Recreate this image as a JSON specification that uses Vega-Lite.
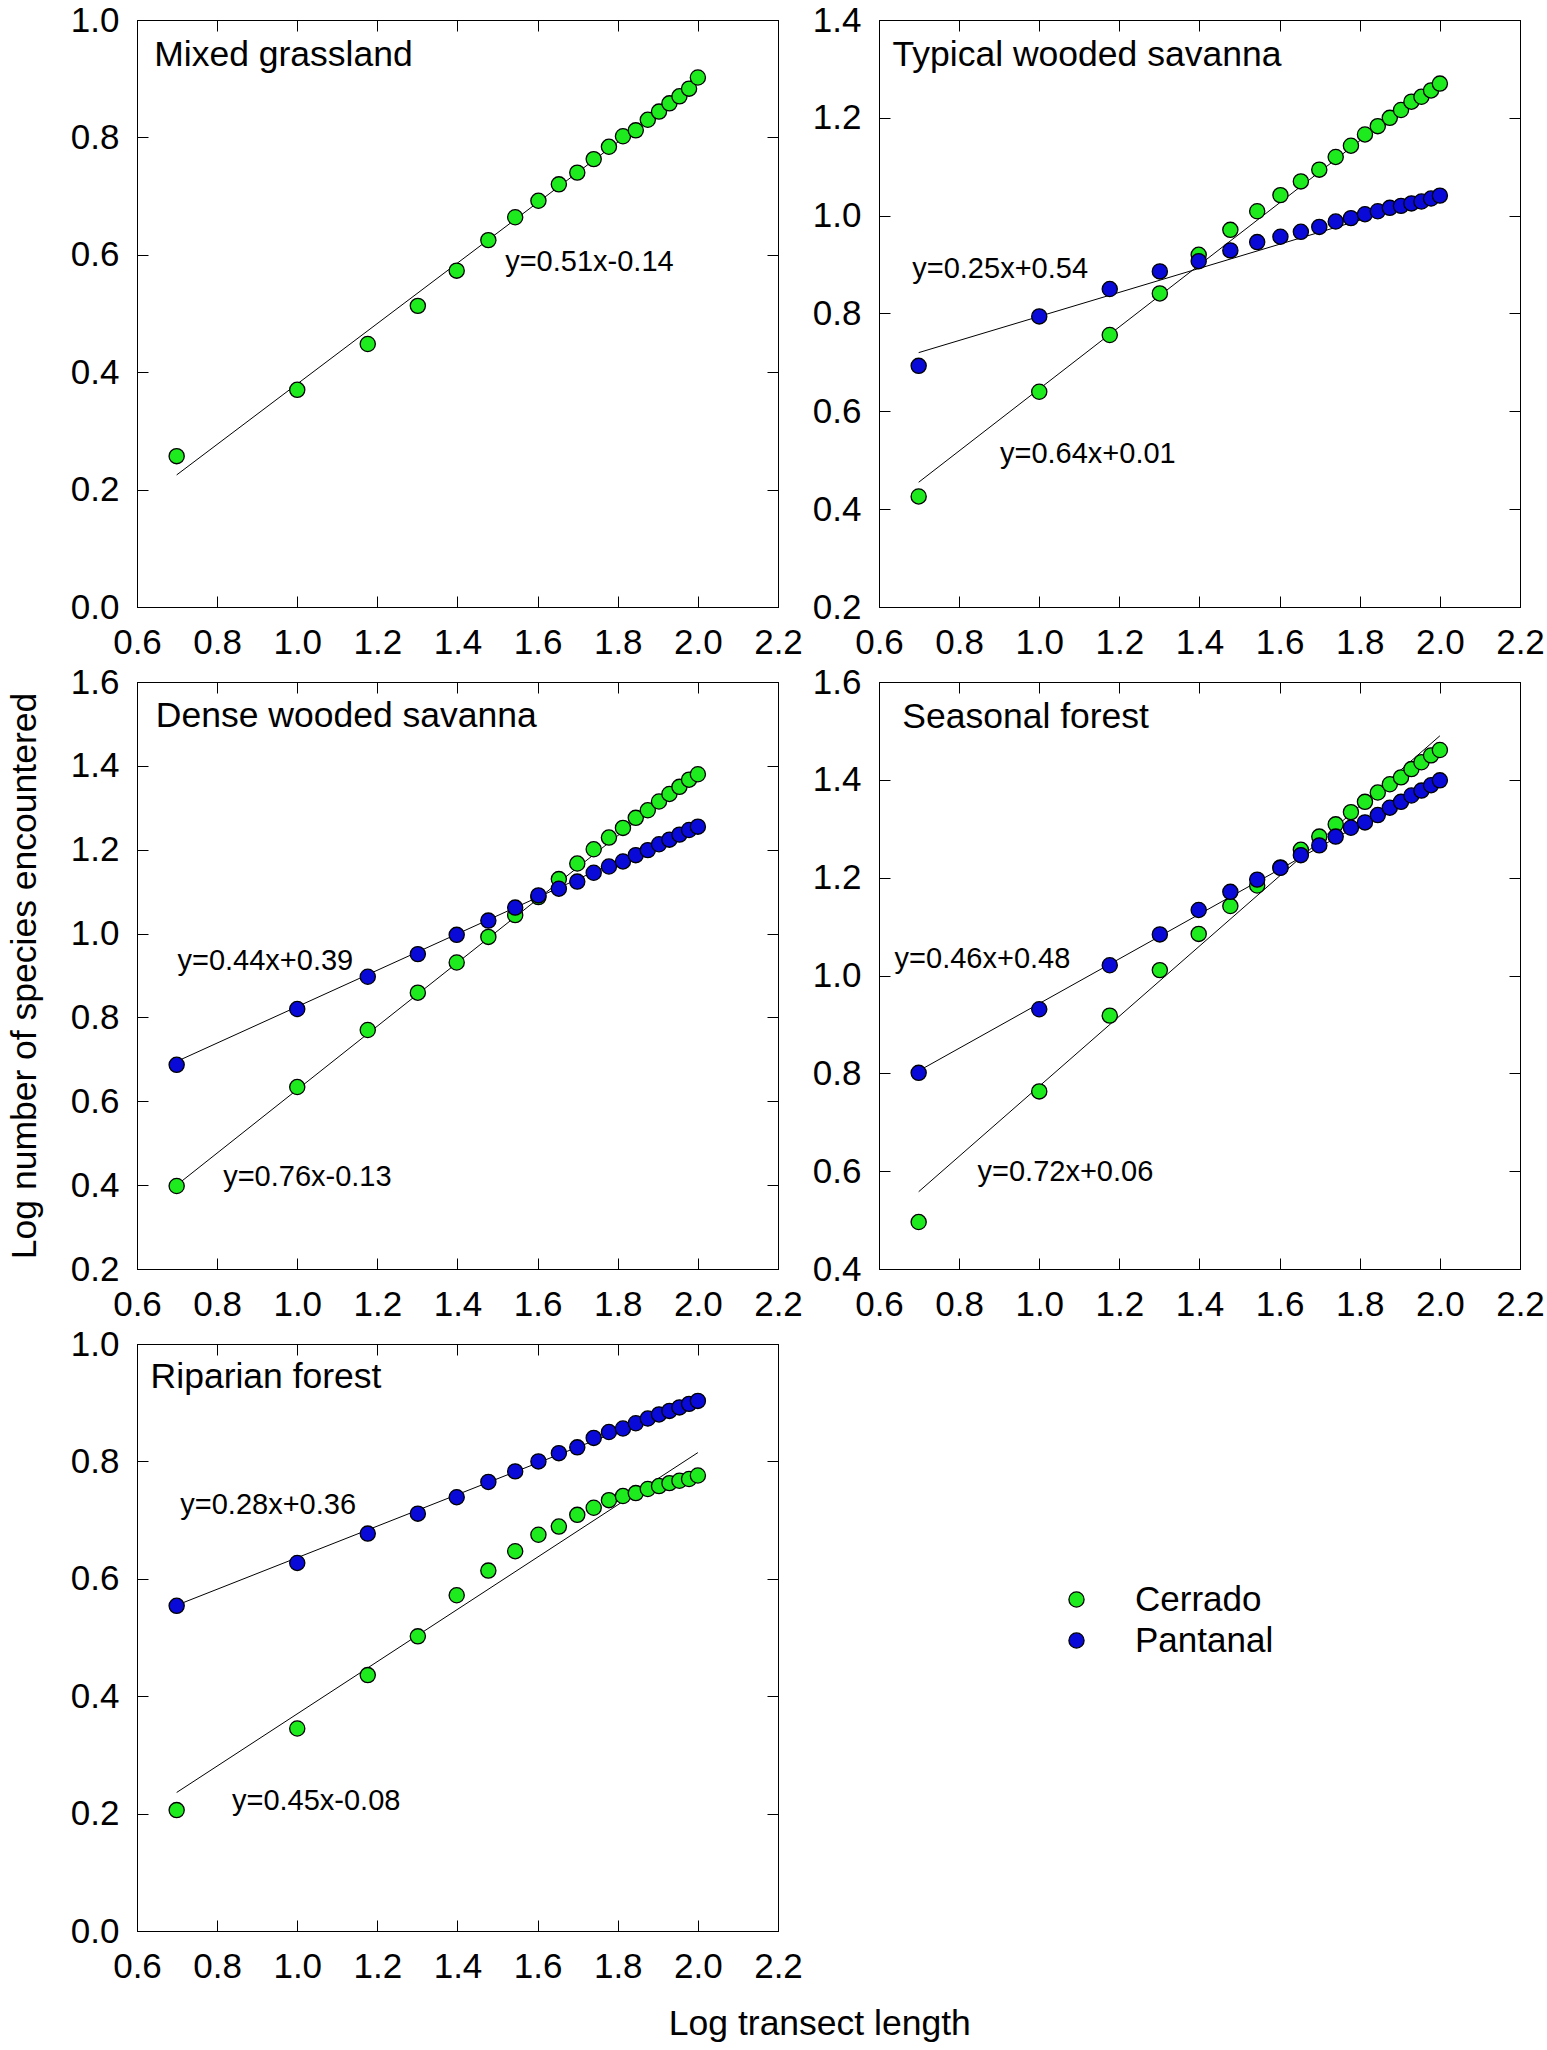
{
"$schema":"https://vega.github.io/schema/vega-lite/v6.json",
"padding":{"left":6,"top":2,"right":0,"bottom":5},
"bounds":"flush",
"columns":2,
"spacing":{"row":75,"column":101},
"title":{"text":"Log transect length","orient":"bottom","anchor":"middle","fontSize":35.5,"fontWeight":"normal","font":"Liberation Sans","color":"black","offset":22,"dx":44},
"config":{
 "view":{"stroke":"black","strokeWidth":1},
 "font":"Liberation Sans",
 "axis":{"grid":false,"labelFlush":false,"tickSize":-11,"tickColor":"black","tickWidth":1,"domainColor":"black","domainWidth":1,"labelFontSize":35,"labelColor":"black","labelFont":"Liberation Sans","labelPadding":29,"titleFontWeight":"normal","titleFont":"Liberation Sans","titleColor":"black","titleFontSize":35.5},
 "text":{"font":"Liberation Sans","color":"black"}
},
"datasets":{
 "points":[
  {"panel":1,"site":"Cerrado","x":0.699,"y":0.257},{"panel":1,"site":"Cerrado","x":1.0,"y":0.370},{"panel":1,"site":"Cerrado","x":1.176,"y":0.448},{"panel":1,"site":"Cerrado","x":1.301,"y":0.513},{"panel":1,"site":"Cerrado","x":1.398,"y":0.573},{"panel":1,"site":"Cerrado","x":1.477,"y":0.625},{"panel":1,"site":"Cerrado","x":1.544,"y":0.664},{"panel":1,"site":"Cerrado","x":1.602,"y":0.692},{"panel":1,"site":"Cerrado","x":1.653,"y":0.720},{"panel":1,"site":"Cerrado","x":1.699,"y":0.740},{"panel":1,"site":"Cerrado","x":1.740,"y":0.763},{"panel":1,"site":"Cerrado","x":1.778,"y":0.784},{"panel":1,"site":"Cerrado","x":1.813,"y":0.802},{"panel":1,"site":"Cerrado","x":1.845,"y":0.812},{"panel":1,"site":"Cerrado","x":1.875,"y":0.830},{"panel":1,"site":"Cerrado","x":1.903,"y":0.844},{"panel":1,"site":"Cerrado","x":1.929,"y":0.858},{"panel":1,"site":"Cerrado","x":1.954,"y":0.870},{"panel":1,"site":"Cerrado","x":1.978,"y":0.883},{"panel":1,"site":"Cerrado","x":2.0,"y":0.902},

  {"panel":2,"site":"Cerrado","x":0.699,"y":0.426},{"panel":2,"site":"Cerrado","x":1.0,"y":0.640},{"panel":2,"site":"Cerrado","x":1.176,"y":0.756},{"panel":2,"site":"Cerrado","x":1.301,"y":0.841},{"panel":2,"site":"Cerrado","x":1.398,"y":0.920},{"panel":2,"site":"Cerrado","x":1.477,"y":0.971},{"panel":2,"site":"Cerrado","x":1.544,"y":1.009},{"panel":2,"site":"Cerrado","x":1.602,"y":1.042},{"panel":2,"site":"Cerrado","x":1.653,"y":1.070},{"panel":2,"site":"Cerrado","x":1.699,"y":1.094},{"panel":2,"site":"Cerrado","x":1.740,"y":1.120},{"panel":2,"site":"Cerrado","x":1.778,"y":1.143},{"panel":2,"site":"Cerrado","x":1.813,"y":1.166},{"panel":2,"site":"Cerrado","x":1.845,"y":1.183},{"panel":2,"site":"Cerrado","x":1.875,"y":1.200},{"panel":2,"site":"Cerrado","x":1.903,"y":1.216},{"panel":2,"site":"Cerrado","x":1.929,"y":1.233},{"panel":2,"site":"Cerrado","x":1.954,"y":1.243},{"panel":2,"site":"Cerrado","x":1.978,"y":1.256},{"panel":2,"site":"Cerrado","x":2.0,"y":1.270},
  {"panel":2,"site":"Pantanal","x":0.699,"y":0.693},{"panel":2,"site":"Pantanal","x":1.0,"y":0.794},{"panel":2,"site":"Pantanal","x":1.176,"y":0.850},{"panel":2,"site":"Pantanal","x":1.301,"y":0.886},{"panel":2,"site":"Pantanal","x":1.398,"y":0.907},{"panel":2,"site":"Pantanal","x":1.477,"y":0.929},{"panel":2,"site":"Pantanal","x":1.544,"y":0.946},{"panel":2,"site":"Pantanal","x":1.602,"y":0.957},{"panel":2,"site":"Pantanal","x":1.653,"y":0.967},{"panel":2,"site":"Pantanal","x":1.699,"y":0.977},{"panel":2,"site":"Pantanal","x":1.740,"y":0.988},{"panel":2,"site":"Pantanal","x":1.778,"y":0.995},{"panel":2,"site":"Pantanal","x":1.813,"y":1.003},{"panel":2,"site":"Pantanal","x":1.845,"y":1.009},{"panel":2,"site":"Pantanal","x":1.875,"y":1.016},{"panel":2,"site":"Pantanal","x":1.903,"y":1.020},{"panel":2,"site":"Pantanal","x":1.929,"y":1.025},{"panel":2,"site":"Pantanal","x":1.954,"y":1.029},{"panel":2,"site":"Pantanal","x":1.978,"y":1.035},{"panel":2,"site":"Pantanal","x":2.0,"y":1.041},

  {"panel":3,"site":"Cerrado","x":0.699,"y":0.398},{"panel":3,"site":"Cerrado","x":1.0,"y":0.634},{"panel":3,"site":"Cerrado","x":1.176,"y":0.770},{"panel":3,"site":"Cerrado","x":1.301,"y":0.859},{"panel":3,"site":"Cerrado","x":1.398,"y":0.931},{"panel":3,"site":"Cerrado","x":1.477,"y":0.992},{"panel":3,"site":"Cerrado","x":1.544,"y":1.044},{"panel":3,"site":"Cerrado","x":1.602,"y":1.087},{"panel":3,"site":"Cerrado","x":1.653,"y":1.130},{"panel":3,"site":"Cerrado","x":1.699,"y":1.167},{"panel":3,"site":"Cerrado","x":1.740,"y":1.201},{"panel":3,"site":"Cerrado","x":1.778,"y":1.229},{"panel":3,"site":"Cerrado","x":1.813,"y":1.252},{"panel":3,"site":"Cerrado","x":1.845,"y":1.276},{"panel":3,"site":"Cerrado","x":1.875,"y":1.294},{"panel":3,"site":"Cerrado","x":1.903,"y":1.315},{"panel":3,"site":"Cerrado","x":1.929,"y":1.333},{"panel":3,"site":"Cerrado","x":1.954,"y":1.350},{"panel":3,"site":"Cerrado","x":1.978,"y":1.367},{"panel":3,"site":"Cerrado","x":2.0,"y":1.380},
  {"panel":3,"site":"Pantanal","x":0.699,"y":0.687},{"panel":3,"site":"Pantanal","x":1.0,"y":0.820},{"panel":3,"site":"Pantanal","x":1.176,"y":0.897},{"panel":3,"site":"Pantanal","x":1.301,"y":0.951},{"panel":3,"site":"Pantanal","x":1.398,"y":0.997},{"panel":3,"site":"Pantanal","x":1.477,"y":1.031},{"panel":3,"site":"Pantanal","x":1.544,"y":1.062},{"panel":3,"site":"Pantanal","x":1.602,"y":1.091},{"panel":3,"site":"Pantanal","x":1.653,"y":1.107},{"panel":3,"site":"Pantanal","x":1.699,"y":1.124},{"panel":3,"site":"Pantanal","x":1.740,"y":1.145},{"panel":3,"site":"Pantanal","x":1.778,"y":1.160},{"panel":3,"site":"Pantanal","x":1.813,"y":1.172},{"panel":3,"site":"Pantanal","x":1.845,"y":1.187},{"panel":3,"site":"Pantanal","x":1.875,"y":1.199},{"panel":3,"site":"Pantanal","x":1.903,"y":1.213},{"panel":3,"site":"Pantanal","x":1.929,"y":1.224},{"panel":3,"site":"Pantanal","x":1.954,"y":1.236},{"panel":3,"site":"Pantanal","x":1.978,"y":1.247},{"panel":3,"site":"Pantanal","x":2.0,"y":1.255},

  {"panel":4,"site":"Cerrado","x":0.699,"y":0.496},{"panel":4,"site":"Cerrado","x":1.0,"y":0.763},{"panel":4,"site":"Cerrado","x":1.176,"y":0.918},{"panel":4,"site":"Cerrado","x":1.301,"y":1.011},{"panel":4,"site":"Cerrado","x":1.398,"y":1.085},{"panel":4,"site":"Cerrado","x":1.477,"y":1.142},{"panel":4,"site":"Cerrado","x":1.544,"y":1.184},{"panel":4,"site":"Cerrado","x":1.602,"y":1.221},{"panel":4,"site":"Cerrado","x":1.653,"y":1.257},{"panel":4,"site":"Cerrado","x":1.699,"y":1.284},{"panel":4,"site":"Cerrado","x":1.740,"y":1.309},{"panel":4,"site":"Cerrado","x":1.778,"y":1.334},{"panel":4,"site":"Cerrado","x":1.813,"y":1.355},{"panel":4,"site":"Cerrado","x":1.845,"y":1.374},{"panel":4,"site":"Cerrado","x":1.875,"y":1.391},{"panel":4,"site":"Cerrado","x":1.903,"y":1.405},{"panel":4,"site":"Cerrado","x":1.929,"y":1.422},{"panel":4,"site":"Cerrado","x":1.954,"y":1.436},{"panel":4,"site":"Cerrado","x":1.978,"y":1.450},{"panel":4,"site":"Cerrado","x":2.0,"y":1.461},
  {"panel":4,"site":"Pantanal","x":0.699,"y":0.801},{"panel":4,"site":"Pantanal","x":1.0,"y":0.931},{"panel":4,"site":"Pantanal","x":1.176,"y":1.021},{"panel":4,"site":"Pantanal","x":1.301,"y":1.084},{"panel":4,"site":"Pantanal","x":1.398,"y":1.134},{"panel":4,"site":"Pantanal","x":1.477,"y":1.171},{"panel":4,"site":"Pantanal","x":1.544,"y":1.196},{"panel":4,"site":"Pantanal","x":1.602,"y":1.220},{"panel":4,"site":"Pantanal","x":1.653,"y":1.246},{"panel":4,"site":"Pantanal","x":1.699,"y":1.266},{"panel":4,"site":"Pantanal","x":1.740,"y":1.284},{"panel":4,"site":"Pantanal","x":1.778,"y":1.302},{"panel":4,"site":"Pantanal","x":1.813,"y":1.313},{"panel":4,"site":"Pantanal","x":1.845,"y":1.328},{"panel":4,"site":"Pantanal","x":1.875,"y":1.343},{"panel":4,"site":"Pantanal","x":1.903,"y":1.355},{"panel":4,"site":"Pantanal","x":1.929,"y":1.368},{"panel":4,"site":"Pantanal","x":1.954,"y":1.378},{"panel":4,"site":"Pantanal","x":1.978,"y":1.389},{"panel":4,"site":"Pantanal","x":2.0,"y":1.399},

  {"panel":5,"site":"Cerrado","x":0.699,"y":0.206},{"panel":5,"site":"Cerrado","x":1.0,"y":0.345},{"panel":5,"site":"Cerrado","x":1.176,"y":0.436},{"panel":5,"site":"Cerrado","x":1.301,"y":0.502},{"panel":5,"site":"Cerrado","x":1.398,"y":0.572},{"panel":5,"site":"Cerrado","x":1.477,"y":0.614},{"panel":5,"site":"Cerrado","x":1.544,"y":0.647},{"panel":5,"site":"Cerrado","x":1.602,"y":0.675},{"panel":5,"site":"Cerrado","x":1.653,"y":0.689},{"panel":5,"site":"Cerrado","x":1.699,"y":0.709},{"panel":5,"site":"Cerrado","x":1.740,"y":0.721},{"panel":5,"site":"Cerrado","x":1.778,"y":0.734},{"panel":5,"site":"Cerrado","x":1.813,"y":0.741},{"panel":5,"site":"Cerrado","x":1.845,"y":0.746},{"panel":5,"site":"Cerrado","x":1.875,"y":0.753},{"panel":5,"site":"Cerrado","x":1.903,"y":0.758},{"panel":5,"site":"Cerrado","x":1.929,"y":0.763},{"panel":5,"site":"Cerrado","x":1.954,"y":0.767},{"panel":5,"site":"Cerrado","x":1.978,"y":0.770},{"panel":5,"site":"Cerrado","x":2.0,"y":0.776},
  {"panel":5,"site":"Pantanal","x":0.699,"y":0.554},{"panel":5,"site":"Pantanal","x":1.0,"y":0.627},{"panel":5,"site":"Pantanal","x":1.176,"y":0.677},{"panel":5,"site":"Pantanal","x":1.301,"y":0.711},{"panel":5,"site":"Pantanal","x":1.398,"y":0.739},{"panel":5,"site":"Pantanal","x":1.477,"y":0.765},{"panel":5,"site":"Pantanal","x":1.544,"y":0.783},{"panel":5,"site":"Pantanal","x":1.602,"y":0.800},{"panel":5,"site":"Pantanal","x":1.653,"y":0.814},{"panel":5,"site":"Pantanal","x":1.699,"y":0.824},{"panel":5,"site":"Pantanal","x":1.740,"y":0.840},{"panel":5,"site":"Pantanal","x":1.778,"y":0.850},{"panel":5,"site":"Pantanal","x":1.813,"y":0.856},{"panel":5,"site":"Pantanal","x":1.845,"y":0.865},{"panel":5,"site":"Pantanal","x":1.875,"y":0.873},{"panel":5,"site":"Pantanal","x":1.903,"y":0.880},{"panel":5,"site":"Pantanal","x":1.929,"y":0.886},{"panel":5,"site":"Pantanal","x":1.954,"y":0.892},{"panel":5,"site":"Pantanal","x":1.978,"y":0.898},{"panel":5,"site":"Pantanal","x":2.0,"y":0.903}
 ],
 "fits":[
  {"panel":1,"site":"Cerrado","x":0.699,"y":0.225},{"panel":1,"site":"Cerrado","x":2.0,"y":0.895},
  {"panel":2,"site":"Cerrado","x":0.699,"y":0.455},{"panel":2,"site":"Cerrado","x":2.0,"y":1.28},
  {"panel":2,"site":"Pantanal","x":0.699,"y":0.72},{"panel":2,"site":"Pantanal","x":2.0,"y":1.04},
  {"panel":3,"site":"Cerrado","x":0.699,"y":0.40},{"panel":3,"site":"Cerrado","x":2.0,"y":1.385},
  {"panel":3,"site":"Pantanal","x":0.699,"y":0.695},{"panel":3,"site":"Pantanal","x":2.0,"y":1.26},
  {"panel":4,"site":"Cerrado","x":0.699,"y":0.558},{"panel":4,"site":"Cerrado","x":2.0,"y":1.49},
  {"panel":4,"site":"Pantanal","x":0.699,"y":0.805},{"panel":4,"site":"Pantanal","x":2.0,"y":1.40},
  {"panel":5,"site":"Cerrado","x":0.699,"y":0.236},{"panel":5,"site":"Cerrado","x":2.0,"y":0.815},
  {"panel":5,"site":"Pantanal","x":0.699,"y":0.555},{"panel":5,"site":"Pantanal","x":2.0,"y":0.905}
 ],
 "notes":[
  {"panel":1,"kind":"eq","x":1.519,"y":0.587,"text":"y=0.51x-0.14"},
  {"panel":2,"kind":"eq","x":0.683,"y":0.890,"text":"y=0.25x+0.54"},
  {"panel":2,"kind":"eq","x":0.902,"y":0.513,"text":"y=0.64x+0.01"},
  {"panel":3,"kind":"eq","x":0.701,"y":0.934,"text":"y=0.44x+0.39"},
  {"panel":3,"kind":"eq","x":0.815,"y":0.420,"text":"y=0.76x-0.13"},
  {"panel":4,"kind":"eq","x":0.639,"y":1.033,"text":"y=0.46x+0.48"},
  {"panel":4,"kind":"eq","x":0.846,"y":0.599,"text":"y=0.72x+0.06"},
  {"panel":5,"kind":"eq","x":0.708,"y":0.725,"text":"y=0.28x+0.36"},
  {"panel":5,"kind":"eq","x":0.837,"y":0.222,"text":"y=0.45x-0.08"},
  {"panel":1,"kind":"title","x":0.643,"y":0.941,"text":"Mixed grassland"},
  {"panel":2,"kind":"title","x":0.634,"y":1.328,"text":"Typical wooded savanna"},
  {"panel":3,"kind":"title","x":0.647,"y":1.518,"text":"Dense wooded savanna"},
  {"panel":4,"kind":"title","x":0.658,"y":1.528,"text":"Seasonal forest"},
  {"panel":5,"kind":"title","x":0.634,"y":0.943,"text":"Riparian forest"}
 ]
},
"concat":[
 {"width":641,"height":587,
  "resolve":{"axis":{"x":"independent","y":"independent"}},
  "layer":[
   {"data":{"name":"fits"},"transform":[{"filter":"datum.panel==1"}],
    "mark":{"type":"line","color":"black","strokeWidth":1},
    "encoding":{"x":{"field":"x","type":"quantitative","scale":{"domain":[0.6,2.2],"nice":false,"zero":false},"axis":{"orient":"top","labels":false,"title":null,"values":[0.6,0.8,1.0,1.2,1.4,1.6,1.8,2.0,2.2]}},
     "y":{"field":"y","type":"quantitative","scale":{"domain":[0,1.0],"nice":false,"zero":false},"axis":{"orient":"right","labels":false,"title":null,"values":[0,0.2,0.4,0.6,0.8,1.0]}},
     "detail":{"field":"site"}}},
   {"data":{"name":"points"},"transform":[{"filter":"datum.panel==1"}],
    "mark":{"type":"point","filled":true,"shape":"circle","size":230,"stroke":"black","strokeWidth":1.3,"opacity":1},
    "encoding":{"x":{"field":"x","type":"quantitative","scale":{"domain":[0.6,2.2],"nice":false,"zero":false},"axis":{"orient":"bottom","title":null,"format":".1f","values":[0.6,0.8,1.0,1.2,1.4,1.6,1.8,2.0,2.2]}},
     "y":{"field":"y","type":"quantitative","scale":{"domain":[0,1.0],"nice":false,"zero":false},"axis":{"orient":"left","title":null,"format":".1f","values":[0,0.2,0.4,0.6,0.8,1.0]}},
     "color":{"field":"site","type":"nominal","scale":{"domain":["Cerrado","Pantanal"],"range":["#1eeb1e","#0a0ad8"]},
      "legend":{"title":null,"orient":"none","legendX":922,"legendY":1562,"symbolType":"circle","symbolSize":230,"symbolStrokeColor":"black","symbolStrokeWidth":1.3,"symbolOpacity":1,"labelFontSize":35,"labelFont":"Liberation Sans","labelColor":"black","labelOffset":41,"rowPadding":5}}}},
   {"data":{"name":"notes"},"transform":[{"filter":"datum.panel==1 && datum.kind=='eq'"}],
    "mark":{"type":"text","align":"left","baseline":"middle","fontSize":29},
    "encoding":{"x":{"field":"x","type":"quantitative","axis":null},"y":{"field":"y","type":"quantitative","axis":null},"text":{"field":"text"}}},
   {"data":{"name":"notes"},"transform":[{"filter":"datum.panel==1 && datum.kind=='title'"}],
    "mark":{"type":"text","align":"left","baseline":"middle","fontSize":35.5},
    "encoding":{"x":{"field":"x","type":"quantitative","axis":null},"y":{"field":"y","type":"quantitative","axis":null},"text":{"field":"text"}}}
  ]},
 {"width":641,"height":587,
  "resolve":{"axis":{"x":"independent","y":"independent"}},
  "layer":[
   {"data":{"name":"fits"},"transform":[{"filter":"datum.panel==2"}],
    "mark":{"type":"line","color":"black","strokeWidth":1},
    "encoding":{"x":{"field":"x","type":"quantitative","scale":{"domain":[0.6,2.2],"nice":false,"zero":false},"axis":{"orient":"top","labels":false,"title":null,"values":[0.6,0.8,1.0,1.2,1.4,1.6,1.8,2.0,2.2]}},
     "y":{"field":"y","type":"quantitative","scale":{"domain":[0.2,1.4],"nice":false,"zero":false},"axis":{"orient":"right","labels":false,"title":null,"values":[0.2,0.4,0.6,0.8,1.0,1.2,1.4]}},
     "detail":{"field":"site"}}},
   {"data":{"name":"points"},"transform":[{"filter":"datum.panel==2"}],
    "mark":{"type":"point","filled":true,"shape":"circle","size":230,"stroke":"black","strokeWidth":1.3,"opacity":1},
    "encoding":{"x":{"field":"x","type":"quantitative","scale":{"domain":[0.6,2.2],"nice":false,"zero":false},"axis":{"orient":"bottom","title":null,"format":".1f","values":[0.6,0.8,1.0,1.2,1.4,1.6,1.8,2.0,2.2]}},
     "y":{"field":"y","type":"quantitative","scale":{"domain":[0.2,1.4],"nice":false,"zero":false},"axis":{"orient":"left","title":null,"format":".1f","values":[0.2,0.4,0.6,0.8,1.0,1.2,1.4]}},
     "color":{"field":"site","type":"nominal","scale":{"domain":["Cerrado","Pantanal"],"range":["#1eeb1e","#0a0ad8"]},
      "legend":{"title":null,"orient":"none","legendX":922,"legendY":1562,"symbolType":"circle","symbolSize":230,"symbolStrokeColor":"black","symbolStrokeWidth":1.3,"symbolOpacity":1,"labelFontSize":35,"labelFont":"Liberation Sans","labelColor":"black","labelOffset":41,"rowPadding":5}}}},
   {"data":{"name":"notes"},"transform":[{"filter":"datum.panel==2 && datum.kind=='eq'"}],
    "mark":{"type":"text","align":"left","baseline":"middle","fontSize":29},
    "encoding":{"x":{"field":"x","type":"quantitative","axis":null},"y":{"field":"y","type":"quantitative","axis":null},"text":{"field":"text"}}},
   {"data":{"name":"notes"},"transform":[{"filter":"datum.panel==2 && datum.kind=='title'"}],
    "mark":{"type":"text","align":"left","baseline":"middle","fontSize":35.5},
    "encoding":{"x":{"field":"x","type":"quantitative","axis":null},"y":{"field":"y","type":"quantitative","axis":null},"text":{"field":"text"}}}
  ]},
 {"width":641,"height":587,
  "resolve":{"axis":{"x":"independent","y":"independent"}},
  "layer":[
   {"data":{"name":"fits"},"transform":[{"filter":"datum.panel==3"}],
    "mark":{"type":"line","color":"black","strokeWidth":1},
    "encoding":{"x":{"field":"x","type":"quantitative","scale":{"domain":[0.6,2.2],"nice":false,"zero":false},"axis":{"orient":"top","labels":false,"title":null,"values":[0.6,0.8,1.0,1.2,1.4,1.6,1.8,2.0,2.2]}},
     "y":{"field":"y","type":"quantitative","scale":{"domain":[0.2,1.6],"nice":false,"zero":false},"axis":{"orient":"right","labels":false,"title":null,"values":[0.2,0.4,0.6,0.8,1.0,1.2,1.4,1.6]}},
     "detail":{"field":"site"}}},
   {"data":{"name":"points"},"transform":[{"filter":"datum.panel==3"}],
    "mark":{"type":"point","filled":true,"shape":"circle","size":230,"stroke":"black","strokeWidth":1.3,"opacity":1},
    "encoding":{"x":{"field":"x","type":"quantitative","scale":{"domain":[0.6,2.2],"nice":false,"zero":false},"axis":{"orient":"bottom","title":null,"format":".1f","values":[0.6,0.8,1.0,1.2,1.4,1.6,1.8,2.0,2.2]}},
     "y":{"field":"y","type":"quantitative","scale":{"domain":[0.2,1.6],"nice":false,"zero":false},"axis":{"orient":"left","title":"Log number of species encountered","titlePadding":28,"format":".1f","values":[0.2,0.4,0.6,0.8,1.0,1.2,1.4,1.6]}},
     "color":{"field":"site","type":"nominal","scale":{"domain":["Cerrado","Pantanal"],"range":["#1eeb1e","#0a0ad8"]},
      "legend":{"title":null,"orient":"none","legendX":922,"legendY":1562,"symbolType":"circle","symbolSize":230,"symbolStrokeColor":"black","symbolStrokeWidth":1.3,"symbolOpacity":1,"labelFontSize":35,"labelFont":"Liberation Sans","labelColor":"black","labelOffset":41,"rowPadding":5}}}},
   {"data":{"name":"notes"},"transform":[{"filter":"datum.panel==3 && datum.kind=='eq'"}],
    "mark":{"type":"text","align":"left","baseline":"middle","fontSize":29},
    "encoding":{"x":{"field":"x","type":"quantitative","axis":null},"y":{"field":"y","type":"quantitative","axis":null},"text":{"field":"text"}}},
   {"data":{"name":"notes"},"transform":[{"filter":"datum.panel==3 && datum.kind=='title'"}],
    "mark":{"type":"text","align":"left","baseline":"middle","fontSize":35.5},
    "encoding":{"x":{"field":"x","type":"quantitative","axis":null},"y":{"field":"y","type":"quantitative","axis":null},"text":{"field":"text"}}}
  ]},
 {"width":641,"height":587,
  "resolve":{"axis":{"x":"independent","y":"independent"}},
  "layer":[
   {"data":{"name":"fits"},"transform":[{"filter":"datum.panel==4"}],
    "mark":{"type":"line","color":"black","strokeWidth":1},
    "encoding":{"x":{"field":"x","type":"quantitative","scale":{"domain":[0.6,2.2],"nice":false,"zero":false},"axis":{"orient":"top","labels":false,"title":null,"values":[0.6,0.8,1.0,1.2,1.4,1.6,1.8,2.0,2.2]}},
     "y":{"field":"y","type":"quantitative","scale":{"domain":[0.4,1.6],"nice":false,"zero":false},"axis":{"orient":"right","labels":false,"title":null,"values":[0.4,0.6,0.8,1.0,1.2,1.4,1.6]}},
     "detail":{"field":"site"}}},
   {"data":{"name":"points"},"transform":[{"filter":"datum.panel==4"}],
    "mark":{"type":"point","filled":true,"shape":"circle","size":230,"stroke":"black","strokeWidth":1.3,"opacity":1},
    "encoding":{"x":{"field":"x","type":"quantitative","scale":{"domain":[0.6,2.2],"nice":false,"zero":false},"axis":{"orient":"bottom","title":null,"format":".1f","values":[0.6,0.8,1.0,1.2,1.4,1.6,1.8,2.0,2.2]}},
     "y":{"field":"y","type":"quantitative","scale":{"domain":[0.4,1.6],"nice":false,"zero":false},"axis":{"orient":"left","title":null,"format":".1f","values":[0.4,0.6,0.8,1.0,1.2,1.4,1.6]}},
     "color":{"field":"site","type":"nominal","scale":{"domain":["Cerrado","Pantanal"],"range":["#1eeb1e","#0a0ad8"]},
      "legend":{"title":null,"orient":"none","legendX":922,"legendY":1562,"symbolType":"circle","symbolSize":230,"symbolStrokeColor":"black","symbolStrokeWidth":1.3,"symbolOpacity":1,"labelFontSize":35,"labelFont":"Liberation Sans","labelColor":"black","labelOffset":41,"rowPadding":5}}}},
   {"data":{"name":"notes"},"transform":[{"filter":"datum.panel==4 && datum.kind=='eq'"}],
    "mark":{"type":"text","align":"left","baseline":"middle","fontSize":29},
    "encoding":{"x":{"field":"x","type":"quantitative","axis":null},"y":{"field":"y","type":"quantitative","axis":null},"text":{"field":"text"}}},
   {"data":{"name":"notes"},"transform":[{"filter":"datum.panel==4 && datum.kind=='title'"}],
    "mark":{"type":"text","align":"left","baseline":"middle","fontSize":35.5},
    "encoding":{"x":{"field":"x","type":"quantitative","axis":null},"y":{"field":"y","type":"quantitative","axis":null},"text":{"field":"text"}}}
  ]},
 {"width":641,"height":587,
  "resolve":{"axis":{"x":"independent","y":"independent"}},
  "layer":[
   {"data":{"name":"fits"},"transform":[{"filter":"datum.panel==5"}],
    "mark":{"type":"line","color":"black","strokeWidth":1},
    "encoding":{"x":{"field":"x","type":"quantitative","scale":{"domain":[0.6,2.2],"nice":false,"zero":false},"axis":{"orient":"top","labels":false,"title":null,"values":[0.6,0.8,1.0,1.2,1.4,1.6,1.8,2.0,2.2]}},
     "y":{"field":"y","type":"quantitative","scale":{"domain":[0,1.0],"nice":false,"zero":false},"axis":{"orient":"right","labels":false,"title":null,"values":[0,0.2,0.4,0.6,0.8,1.0]}},
     "detail":{"field":"site"}}},
   {"data":{"name":"points"},"transform":[{"filter":"datum.panel==5"}],
    "mark":{"type":"point","filled":true,"shape":"circle","size":230,"stroke":"black","strokeWidth":1.3,"opacity":1},
    "encoding":{"x":{"field":"x","type":"quantitative","scale":{"domain":[0.6,2.2],"nice":false,"zero":false},"axis":{"orient":"bottom","title":null,"format":".1f","values":[0.6,0.8,1.0,1.2,1.4,1.6,1.8,2.0,2.2]}},
     "y":{"field":"y","type":"quantitative","scale":{"domain":[0,1.0],"nice":false,"zero":false},"axis":{"orient":"left","title":null,"format":".1f","values":[0,0.2,0.4,0.6,0.8,1.0]}},
     "color":{"field":"site","type":"nominal","scale":{"domain":["Cerrado","Pantanal"],"range":["#1eeb1e","#0a0ad8"]},
      "legend":{"title":null,"orient":"none","legendX":922,"legendY":1562,"symbolType":"circle","symbolSize":230,"symbolStrokeColor":"black","symbolStrokeWidth":1.3,"symbolOpacity":1,"labelFontSize":35,"labelFont":"Liberation Sans","labelColor":"black","labelOffset":41,"rowPadding":5}}}},
   {"data":{"name":"notes"},"transform":[{"filter":"datum.panel==5 && datum.kind=='eq'"}],
    "mark":{"type":"text","align":"left","baseline":"middle","fontSize":29},
    "encoding":{"x":{"field":"x","type":"quantitative","axis":null},"y":{"field":"y","type":"quantitative","axis":null},"text":{"field":"text"}}},
   {"data":{"name":"notes"},"transform":[{"filter":"datum.panel==5 && datum.kind=='title'"}],
    "mark":{"type":"text","align":"left","baseline":"middle","fontSize":35.5},
    "encoding":{"x":{"field":"x","type":"quantitative","axis":null},"y":{"field":"y","type":"quantitative","axis":null},"text":{"field":"text"}}}
  ]}
]
}
